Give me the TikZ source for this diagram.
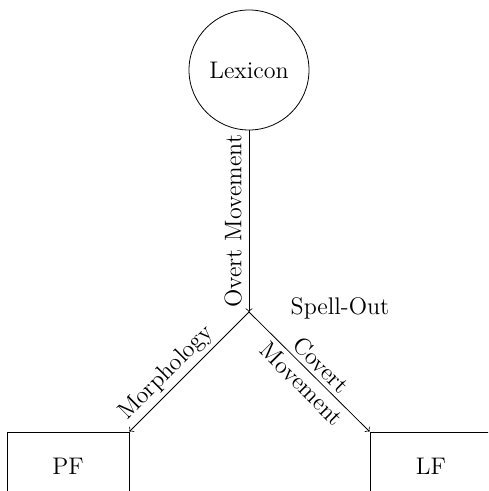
\documentclass[tikz,border=0pt]{standalone}
\begin{document}
\begin{tikzpicture}[
  every node/.style={font=\fontsize{12}{13.5}\selectfont},
  module/.style={draw, rectangle, minimum width=61pt, minimum height=34pt, inner sep=0pt},
  lexnode/.style={draw, circle, minimum size=60pt, inner sep=0pt},
  flow/.style={->}
]
\useasboundingbox (0,0) rectangle (244pt,245.5pt);
\clip (0,0) rectangle (244pt,245.5pt);

% components of the grammar
\node[lexnode] (lex) at (124.5pt,210.5pt) {Lexicon};
\coordinate (sp) at (124.5pt,89.5pt);
\node[module] (pf) at (34pt,12.5pt) {PF};
\node[module] (lf) at (215.5pt,12.5pt) {LF};
\node (spellout) at (170pt,91.5pt) {Spell-Out};

% derivation paths
\draw[flow] (lex) -- (sp)
  node[midway, rotate=90, anchor=south] {Overt Movement};
\draw[flow] (sp) -- (pf.north east)
  node[pos=0.6, rotate=45, anchor=south, inner sep=2pt] {Morphology};
\draw[flow] (sp) -- (lf.north west)
  node[pos=0.52, rotate=-45, align=center] {Covert\\Movement};
\end{tikzpicture}
\end{document}
